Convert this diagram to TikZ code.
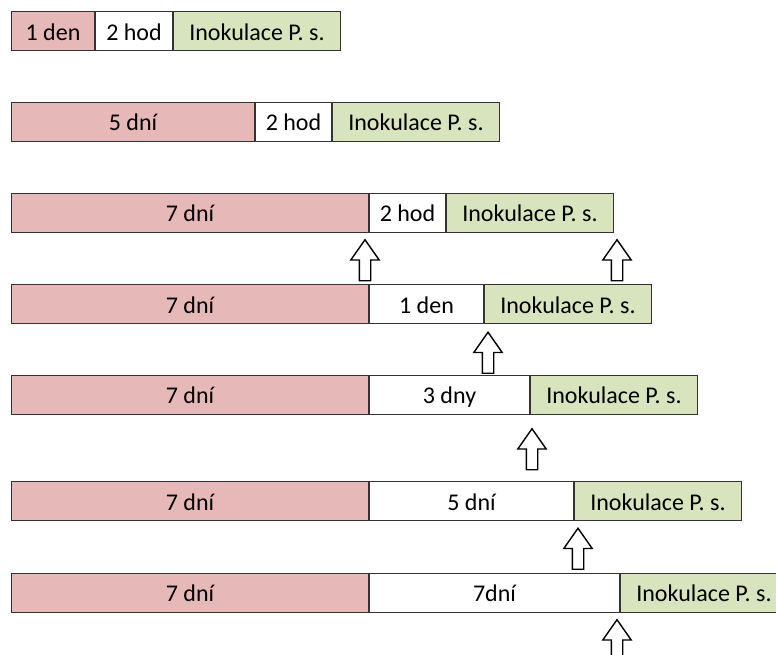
\documentclass[tikz,border=0pt]{standalone}
\usepackage{fontspec}
\setmainfont{Carlito}
\usepackage{xcolor}
\usetikzlibrary{positioning}
\usetikzlibrary{shapes.arrows,calc}

\definecolor{dayred}{HTML}{E6B9B8}
\definecolor{inocgreen}{HTML}{D7E4BD}

\begin{document}
\begin{tikzpicture}[x=1pt, y=-1pt,
node distance = 0pt,
seg/.style={rectangle, draw=black!80, line width=1pt, minimum height=39pt, inner sep=0pt,
  text height=19pt, text depth=1pt, font=\fontsize{24}{28}\selectfont},
day/.style={seg, fill=dayred},
pause/.style={seg, fill=white},
inoc/.style={seg, fill=inocgreen, minimum width=167pt},
uparrow/.style={single arrow, draw=black, fill=white, line width=1.4pt, inner sep=5pt,
  shape border rotate=90, minimum height=41pt,
  single arrow head extend=8.5pt, single arrow tip angle=70, anchor=tip}]
\clip (0,0) rectangle (776,654);
% 1 den
\node [day, minimum width=83pt, anchor=west] (d1) at (11,31) {1 den};
\node [pause, minimum width=77pt] (p1) [right = of d1] {2 hod};
\node [inoc] (i1) [right = of p1] {Inokulace P. s.};
% 5 dni
\node [day, minimum width=243pt, anchor=west] (d2) at (11,121.5) {5 dní};
\node [pause, minimum width=76pt] (p2) [right = of d2] {2 hod};
\node [inoc] (i2) [right = of p2] {Inokulace P. s.};
% 7 dni, ruzne pauzy
\node [day, minimum width=357pt, anchor=west] (d3) at (11,212.5) {7 dní};
\node [pause, minimum width=76pt] (p3) [right = of d3] {2 hod};
\node [inoc] (i3) [right = of p3] {Inokulace P. s.};

\node [day, minimum width=357pt, anchor=west] (d4) at (11,304) {7 dní};
\node [pause, minimum width=114pt] (p4) [right = of d4] {1 den};
\node [inoc] (i4) [right = of p4] {Inokulace P. s.};

\node [day, minimum width=357pt, anchor=west] (d5) at (11,394.5) {7 dní};
\node [pause, minimum width=160pt] (p5) [right = of d5] {3 dny};
\node [inoc] (i5) [right = of p5] {Inokulace P. s.};

\node [day, minimum width=357pt, anchor=west] (d6) at (11,501) {7 dní};
\node [pause, minimum width=204pt] (p6) [right = of d6] {5 dní};
\node [inoc] (i6) [right = of p6] {Inokulace P. s.};

\node [day, minimum width=357pt, anchor=west] (d7) at (11,592.5) {7 dní};
\node [pause, minimum width=250pt] (p7) [right = of d7] {7dní};
\node [inoc] (i7) [right = of p7] {Inokulace P. s.};
% sipky
\node [uparrow] (a3) at ($(p3.south west)+(-4,6)$) {};
\node [uparrow] (b3) at ($(i3.south east)+(3,6)$) {};
\node [uparrow] (a4) at ($(i4.south west)+(4,7)$) {};
\node [uparrow] (a5) at ($(i5.south west)+(2,13)$) {};
\node [uparrow] (a6) at ($(i6.south west)+(4,6)$) {};
\node [uparrow] (a7) at ($(i7.south west)+(-3,6)$) {};
\end{tikzpicture}
\end{document}
